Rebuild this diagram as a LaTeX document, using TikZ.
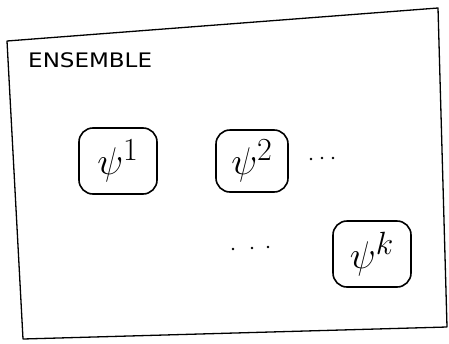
\documentclass[tikz,border=0pt]{standalone}
\usepackage{fontspec}
\usepackage{graphicx}
\setsansfont{DejaVu Sans}
\newcommand{\bigsym}[1]{\scalebox{1.55}{$#1$}}
\begin{document}
\begin{tikzpicture}[x=1pt,y=-1pt,
  member/.style={draw,line width=1.6pt,rounded corners=14pt,minimum width=78pt,minimum height=66pt,inner sep=0pt,font=\fontsize{24.88}{26}\selectfont},
  frame/.style={draw,line width=1.3pt,line join=round},
  dotmark/.style={circle,fill,inner sep=0pt,minimum size=2.8pt}]
\useasboundingbox (0,0) rectangle (449,343);
\coordinate (c1) at (7,41);
\coordinate (c2) at (438,8);
\coordinate (c3) at (447,327);
\coordinate (c4) at (23,339);
\draw[frame] (c1) -- (c2) -- (c3) -- (c4) -- cycle;
\node[anchor=west,inner sep=0pt,font=\sffamily\fontsize{20}{22}\selectfont,xscale=1.15] (title) at (28,60) {ENSEMBLE};
\node[member] (p1) at (118,161) {\bigsym{\psi^{1}}};
\node[member,minimum width=72pt,minimum height=62pt] (p2) at (252,161) {\bigsym{\psi^{2}}};
\node[member] (pk) at (372,254) {\bigsym{\psi^{k}}};
\node[dotmark] (a1) at (311,159) {};
\node[dotmark] (a2) at (322,158) {};
\node[dotmark] (a3) at (333,158) {};
\node[dotmark] (b1) at (233,249) {};
\node[dotmark] (b2) at (252,248) {};
\node[dotmark] (b3) at (268,247) {};
\end{tikzpicture}
\end{document}
